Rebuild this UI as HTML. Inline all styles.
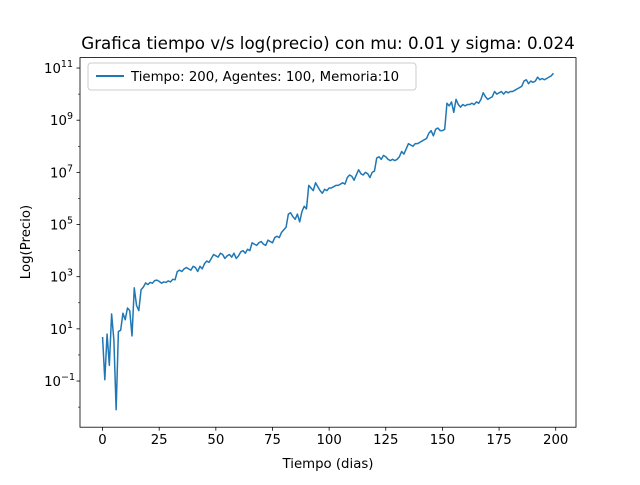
<!DOCTYPE html>
<html><head><meta charset="utf-8"><style>
body{margin:0;background:#fff;}
svg text{font-family:"DejaVu Sans","Liberation Sans",sans-serif;}
</style></head><body>
<svg id="chart" width="640" height="480" xmlns="http://www.w3.org/2000/svg">
<rect width="640" height="480" fill="#fff"/>
<text x="328" y="49" text-anchor="middle" font-size="16.7">Grafica tiempo v/s log(precio) con mu: 0.01 y sigma: 0.024</text>
<g id="plot"></g>
<text x="328" y="468" text-anchor="middle" font-size="13.3">Tiempo (dias)</text>
<text transform="translate(30,242) rotate(-90)" text-anchor="middle" font-size="13.3">Log(Precio)</text>
<g>
<rect x="88" y="63" width="328" height="27" rx="3" fill="#fff" stroke="#ccc" stroke-width="1"/>
<line x1="96" y1="76" x2="124" y2="76" stroke="#1f77b4" stroke-width="2"/>
<text x="131" y="81" font-size="13.3">Tiempo: 200, Agentes: 100, Memoria:10</text>
</g>
</svg>
<script>
const logValues = [0.69,-0.95,0.8,-0.4,1.57,0.58,-2.1,0.9,0.95,1.6,1.35,1.8,1.7,0.73,2.57,1.9,1.7,2.5,2.6,2.76,2.7,
2.78,2.75,2.85,2.87,2.82,2.75,2.8,2.78,2.84,2.8,2.9,2.88,3.2,3.25,3.2,3.3,3.35,3.3,3.25,3.4,
3.35,3.2,3.4,3.3,3.5,3.6,3.55,3.7,3.85,3.8,3.75,3.9,3.85,3.7,3.8,3.85,3.75,3.9,3.7,3.8,
3.95,4.0,3.9,4.05,4.0,4.3,4.25,4.2,4.3,4.35,4.25,4.2,4.4,4.35,4.3,4.5,4.55,4.5,4.7,4.8,
4.9,5.4,5.45,5.3,5.2,5.4,5.1,5.5,5.7,5.6,6.5,6.4,6.3,6.6,6.45,6.3,6.2,6.35,6.3,6.4,
6.4,6.45,6.5,6.5,6.55,6.6,6.55,6.8,6.9,6.85,6.7,6.9,7.1,6.95,6.9,7.0,6.95,6.8,7.0,7.05,
7.55,7.6,7.5,7.65,7.6,7.5,7.45,7.5,7.45,7.5,7.6,7.8,7.7,7.9,8.1,8.05,8.0,8.1,8.1,8.15,
8.2,8.25,8.3,8.5,8.6,8.4,8.65,8.7,8.6,8.6,8.65,9.65,9.55,9.7,9.3,9.8,9.6,9.5,9.6,9.55,
9.6,9.6,9.65,9.6,9.7,9.65,9.8,10.05,9.9,9.8,9.85,9.9,10.1,10.0,10.05,10.1,10.0,10.1,10.05,10.1,
10.1,10.15,10.2,10.25,10.3,10.5,10.55,10.4,10.5,10.45,10.5,10.65,10.55,10.6,10.55,10.6,10.65,10.7,10.8];
const xTicks = [0,25,50,75,100,125,150,175,200];
const yMajorExp = [-1,1,3,5,7,9,11];
const yMinorExp = [-2,0,2,4,6,8,10];

const L=80,R=576,T=57.6,B=427.2;
const xMin=-9.95,xMax=208.95;
const yMinE=-2.77,yMaxE=11.4;
const xs=v=>L+(v-xMin)/(xMax-xMin)*(R-L);
const ys=e=>B-(e-yMinE)/(yMaxE-yMinE)*(B-T);
const NS="http://www.w3.org/2000/svg";
const g=document.getElementById('plot');
function mk(t,a){const e=document.createElementNS(NS,t);for(const k in a)e.setAttribute(k,a[k]);g.appendChild(e);return e;}

const pts=logValues.map((v,i)=>xs(i).toFixed(2)+','+ys(v).toFixed(2)).join(' ');
const line=mk('polyline',{points:pts,fill:'none',stroke:'#1f77b4','stroke-width':1.5,'stroke-linejoin':'round'});



xTicks.forEach(t=>{
  const x=xs(t);
  const tk=mk('line',{x1:x,y1:B,x2:x,y2:B+3.5,stroke:'#000','stroke-width':0.8});
  
  
  const tx=mk('text',{x:x,y:B+17,'text-anchor':'middle','font-size':13.3});
  tx.textContent=t;
  
  
});
yMajorExp.forEach(e=>{
  const y=ys(e);
  const tk=mk('line',{x1:L-3.5,y1:y,x2:L,y2:y,stroke:'#000','stroke-width':0.8});
  
  
  const tx=mk('text',{x:L-7,y:y+5,'text-anchor':'end','font-size':13.3});
  
  
  const a=document.createElementNS(NS,'tspan');a.textContent='10';tx.appendChild(a);
  const b=document.createElementNS(NS,'tspan');b.textContent=String(e).replace('-','\u2212');
  b.setAttribute('dy','-6');b.setAttribute('font-size','9.5');tx.appendChild(b);
  if(e<0) tx.setAttribute('x',L-5);
});
yMinorExp.forEach(e=>{
  const y=ys(e);
  const tk=mk('line',{x1:L-2,y1:y,x2:L,y2:y,stroke:'#000','stroke-width':0.6});
  
  
});
const fr=mk('rect',{x:L,y:T,width:R-L,height:B-T,fill:'none',stroke:'#000','stroke-width':0.8});


</script>
</body></html>
